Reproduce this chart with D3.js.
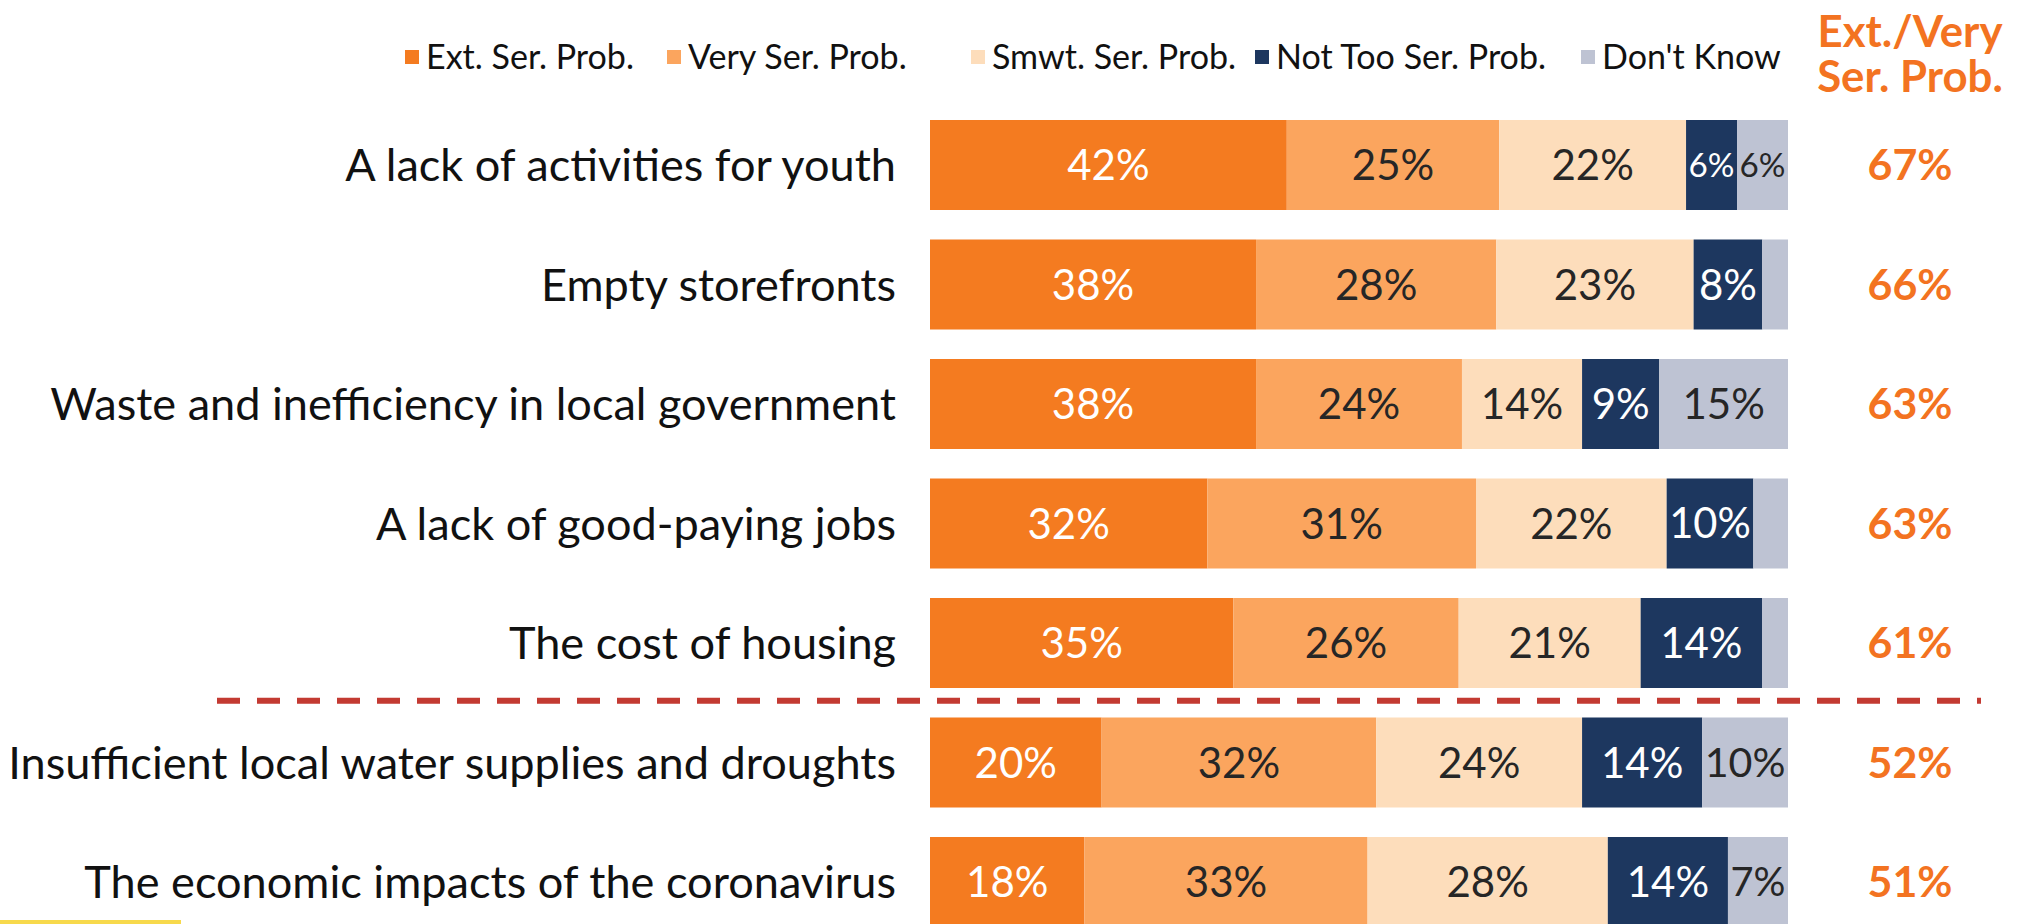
<!DOCTYPE html>
<html>
<head>
<meta charset="utf-8">
<script src="https://cdn.jsdelivr.net/npm/d3@7"></script>
<style>
  body { margin: 0; background: #ffffff; }
  svg { display: block; }
  text { font-family: Lato, "Open Sans", "DejaVu Sans", sans-serif; }
</style>
</head>
<body>
<svg id="chart" width="2024" height="924"></svg>
<script>
// ---------------- DATA ----------------
const categories = [
  "A lack of activities for youth",
  "Empty storefronts",
  "Waste and inefficiency in local government",
  "A lack of good-paying jobs",
  "The cost of housing",
  "Insufficient local water supplies and droughts",
  "The economic impacts of the coronavirus"
];
const seriesNames = ["Ext. Ser. Prob.", "Very Ser. Prob.", "Smwt. Ser. Prob.", "Not Too Ser. Prob.", "Don't Know"];
const extSer    = [42, 38, 38, 32, 35, 20, 18];
const verySer   = [25, 28, 24, 31, 26, 32, 33];
const smwtSer   = [22, 23, 14, 22, 21, 24, 28];
const notTooSer = [ 6,  8,  9, 10, 14, 14, 14];
const dontKnow  = [ 6,  3, 15,  4,  3, 10,  7];
const extVeryTotals = [67, 66, 63, 63, 61, 52, 51];
const summaryHeader = ["Ext./Very", "Ser. Prob."];
const dividerAfterIndex = 4;   // dashed line after "The cost of housing"
const minLabelValue = 6;       // segments below this are left unlabelled

// ---------------- STYLE / LAYOUT ----------------
const colors = ["#F47B20", "#FBA55E", "#FDDDBB", "#1D375F", "#BEC3D3"];
const labelColors = ["#ffffff", "#262626", "#262626", "#ffffff", "#262626"];
const accent = "#F37321";
const barLeft = 930, barRight = 1788;
const barTop = 120, barStep = 119.5, barH = 90;
const catRight = 896, catWidthTarget = 888;
const totalsX = 1910;
const legendY = 57, legendSq = 14;
const legendX = [405, 667, 971, 1255, 1581];

const svg = d3.select("#chart");

const rows = categories.map((c, i) => ({
  category: c,
  [seriesNames[0]]: extSer[i],
  [seriesNames[1]]: verySer[i],
  [seriesNames[2]]: smwtSer[i],
  [seriesNames[3]]: notTooSer[i],
  [seriesNames[4]]: dontKnow[i],
  total: extVeryTotals[i]
}));

const stacked = d3.stack().keys(seriesNames).offset(d3.stackOffsetExpand)(rows);

const x = d3.scaleLinear().domain([0, 1]).range([barLeft, barRight]);
const y = d3.scaleBand()
  .domain(categories)
  .range([barTop, barTop + barStep * (categories.length - 1) + barH])
  .paddingInner((barStep - barH) / barStep)
  .paddingOuter(0);

function measure(str, size, weight) {
  const t = svg.append("text").attr("font-size", size).attr("font-weight", weight || 400).text(str);
  const w = t.node().getComputedTextLength();
  t.remove();
  return w;
}

// ---------------- BARS ----------------
const gBars = svg.append("g");
stacked.forEach((layer, si) => {
  const g = gBars.append("g");
  g.selectAll("rect")
    .data(layer)
    .join("rect")
    .attr("x", d => x(d[0]))
    .attr("y", d => y(d.data.category))
    .attr("width", d => x(d[1]) - x(d[0]))
    .attr("height", y.bandwidth())
    .attr("fill", colors[si]);

  const baseSize = 42;
  g.selectAll("text")
    .data(layer.filter(d => d.data[layer.key] >= minLabelValue))
    .join("text")
    .attr("x", d => (x(d[0]) + x(d[1])) / 2)
    .attr("y", d => y(d.data.category) + y.bandwidth() / 2)
    .attr("dy", "0.36em")
    .attr("text-anchor", "middle")
    .attr("fill", labelColors[si])
    .text(d => d.data[layer.key] + "%")
    .attr("font-size", function(d) {
      const segW = x(d[1]) - x(d[0]);
      const w = measure(d.data[layer.key] + "%", baseSize);
      return w > segW - 5 ? baseSize * (segW - 5) / w : baseSize;
    });
});

// ---------------- CATEGORY LABELS ----------------
const longestW = d3.max(categories, c => measure(c, 40));
const catSize = 40 * catWidthTarget / longestW;
svg.append("g").selectAll("text")
  .data(categories)
  .join("text")
  .attr("x", catRight)
  .attr("y", d => y(d) + y.bandwidth() / 2)
  .attr("dy", "0.36em")
  .attr("text-anchor", "end")
  .attr("font-size", catSize)
  .attr("fill", "#111111")
  .text(d => d);

// ---------------- TOTALS COLUMN ----------------
const totSize = 44 * 85 / measure("67%", 44, 700);
svg.append("g").selectAll("text")
  .data(rows)
  .join("text")
  .attr("x", totalsX)
  .attr("y", d => y(d.category) + y.bandwidth() / 2)
  .attr("dy", "0.36em")
  .attr("text-anchor", "middle")
  .attr("font-size", totSize)
  .attr("font-weight", 700)
  .attr("fill", accent)
  .text(d => d.total + "%");

const hdrSize = 44 * 185 / measure(summaryHeader[0], 44, 700);
svg.append("g").selectAll("text")
  .data(summaryHeader)
  .join("text")
  .attr("x", totalsX)
  .attr("y", (d, i) => 47 + i * 45)
  .attr("text-anchor", "middle")
  .attr("font-size", hdrSize)
  .attr("font-weight", 700)
  .attr("fill", accent)
  .text(d => d);

// ---------------- DIVIDER ----------------
const divY = y(categories[dividerAfterIndex]) + y.bandwidth() + (y.step() - y.bandwidth()) / 2 - 2;
svg.append("line")
  .attr("x1", 217).attr("x2", 1981)
  .attr("y1", divY).attr("y2", divY)
  .attr("stroke", "#C33A32")
  .attr("stroke-width", 6)
  .attr("stroke-dasharray", "23 17");

// ---------------- LEGEND ----------------
const legSize = 25 * 208 / measure(seriesNames[0], 25);
const leg = svg.append("g").selectAll("g")
  .data(seriesNames)
  .join("g")
  .attr("transform", (d, i) => `translate(${legendX[i]},${legendY})`);
leg.append("rect")
  .attr("x", 0).attr("y", -legendSq / 2)
  .attr("width", legendSq).attr("height", legendSq)
  .attr("fill", (d, i) => colors[i]);
leg.append("text")
  .attr("x", legendSq + 7)
  .attr("dy", "0.36em")
  .attr("font-size", legSize)
  .attr("fill", "#111111")
  .text(d => d);

// decorative yellow rule at bottom-left
svg.append("rect").attr("x", 0).attr("y", 920).attr("width", 181).attr("height", 4).attr("fill", "#F7D94C");
</script>
</body>
</html>
